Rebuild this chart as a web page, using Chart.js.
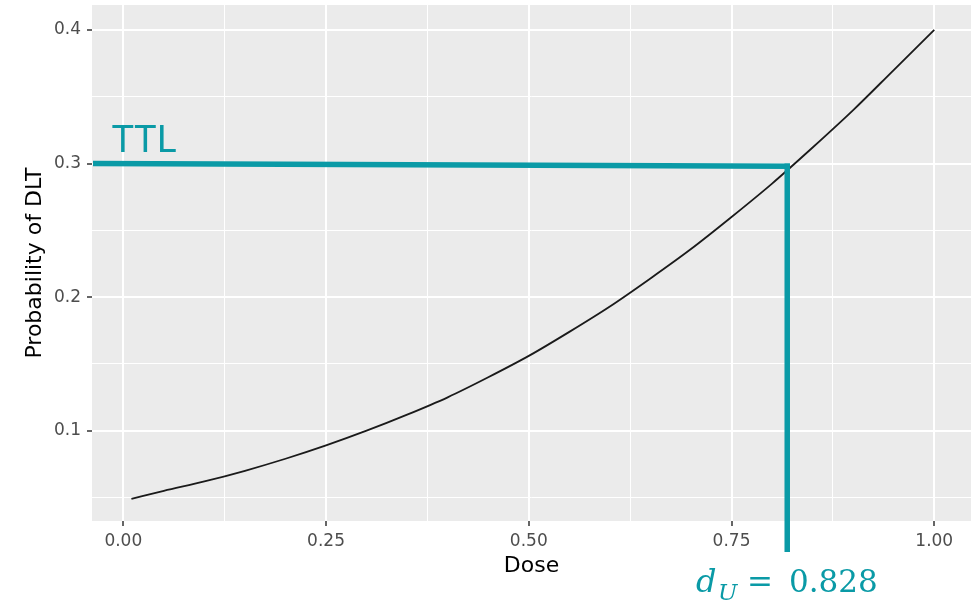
<!DOCTYPE html>
<html lang="en">
<head>
  <meta charset="UTF-8" />
  <title>Probability of DLT vs Dose</title>
  <script src="https://cdn.jsdelivr.net/npm/chart.js"></script>
  <style>
    body { margin: 0; background: #fff; }
    .chart-box { width: 971px; height: 604px; }
  </style>
</head>
<body>
  <div class="chart-box">
    <canvas id="chartDlt"></canvas>
  </div>

  <script>
    // values
    const doses = [0.01, 0.05, 0.10, 0.15, 0.20, 0.25, 0.30, 0.35, 0.40, 0.45, 0.50,
                   0.55, 0.60, 0.65, 0.70, 0.75, 0.80, 0.85, 0.90, 0.95, 1.00];
    const probDlt = [0.049, 0.055, 0.062, 0.070, 0.079, 0.089, 0.100, 0.112, 0.125, 0.140, 0.156,
                     0.174, 0.193, 0.214, 0.236, 0.260, 0.285, 0.312, 0.340, 0.370, 0.400];

    const xMajor = [0, 0.25, 0.5, 0.75, 1];
    const xMinor = [0.125, 0.375, 0.625, 0.875];
    const yMajor = [0.1, 0.2, 0.3, 0.4];
    const yMinor = [0.05, 0.15, 0.25, 0.35];

    const ttl = 0.3;
    const dU = 0.828;
    const teal = '#0a9aa6';

    function isMajor(list, v) {
      return list.some(m => Math.abs(m - v) < 1e-9);
    }

    function setTicks(major, minor) {
      return function (scale) {
        scale.ticks = major.concat(minor).sort((a, b) => a - b).map(v => ({ value: v }));
      };
    }

    // grey panel behind the grid
    const panelBg = {
      id: 'panelBg',
      beforeDraw(chart) {
        const { ctx, chartArea: a } = chart;
        ctx.save();
        ctx.fillStyle = '#ebebeb';
        ctx.fillRect(a.left, a.top, a.right - a.left, a.bottom - a.top);
        ctx.restore();
      }
    };

    // teal TTL / d_U annotation drawn over the plot
    const annot = {
      id: 'annot',
      afterDraw(chart) {
        const { ctx, chartArea: a } = chart;
        const x = chart.scales.x;
        const y = chart.scales.y;
        const yLeft = y.getPixelForValue(ttl);
        const yRight = y.getPixelForValue(0.298);
        const xv = x.getPixelForValue(0.8187);

        ctx.save();
        ctx.strokeStyle = teal;
        ctx.lineWidth = 5.5;
        ctx.lineCap = 'butt';
        ctx.beginPath();
        ctx.moveTo(a.left + 1, yLeft);
        ctx.lineTo(xv + 2.75, yRight);
        ctx.stroke();
        ctx.beginPath();
        ctx.moveTo(xv, yRight - 2.75);
        ctx.lineTo(xv, y.getPixelForValue(0.0092));
        ctx.stroke();

        ctx.fillStyle = teal;
        ctx.textBaseline = 'alphabetic';
        ctx.textAlign = 'left';
        ctx.font = '39px "Noto Sans", "Open Sans", sans-serif';
        ctx.fillText('TTL', a.left + 20, 152);

        ctx.font = 'italic 32px "DejaVu Serif", serif';
        ctx.fillText('d', 696, 592);
        ctx.font = 'italic 23px "DejaVu Serif", serif';
        ctx.fillText('U', 718, 600);
        ctx.font = '31px "DejaVu Serif", serif';
        ctx.fillText('=', 747, 592);
        ctx.fillText(dU.toFixed(3), 789, 592);
        ctx.restore();
      }
    };

    const ctxDlt = document.getElementById('chartDlt').getContext('2d');
    new Chart(ctxDlt, {
      type: 'line',
      data: {
        datasets: [{
          data: doses.map((d, i) => ({ x: d, y: probDlt[i] })),
          borderColor: '#1a1a1a',
          borderWidth: 1.8,
          pointRadius: 0,
          fill: false,
          cubicInterpolationMode: 'monotone'
        }]
      },
      options: {
        responsive: true,
        maintainAspectRatio: false,
        animation: false,
        layout: { padding: { top: 5, left: 0, right: 0, bottom: 0 } },
        plugins: {
          legend: { display: false },
          tooltip: { enabled: false }
        },
        scales: {
          x: {
            type: 'linear',
            min: -0.0386,
            max: 1.0453,
            afterBuildTicks: setTicks(xMajor, xMinor),
            afterFit(scale) {
              scale.height = 83;
              scale.paddingLeft = 0;
              scale.paddingRight = 0;
            },
            border: { display: false },
            grid: {
              color: '#ffffff',
              lineWidth: c => isMajor(xMajor, c.tick.value) ? 2 : 1,
              tickColor: c => isMajor(xMajor, c.tick.value) ? '#333333' : 'rgba(0,0,0,0)',
              tickLength: 5,
              tickWidth: 1.5
            },
            ticks: {
              autoSkip: false,
              maxRotation: 0,
              padding: 5,
              color: '#4d4d4d',
              font: { family: 'DejaVu Sans', size: 17 },
              callback: v => isMajor(xMajor, v) ? v.toFixed(2) : ''
            },
            title: {
              display: true,
              text: 'Dose',
              color: '#000000',
              font: { family: 'DejaVu Sans', size: 22 },
              padding: { top: 0, bottom: 25 }
            }
          },
          y: {
            type: 'linear',
            min: 0.0324,
            max: 0.4187,
            afterBuildTicks: setTicks(yMajor, yMinor),
            afterFit(scale) {
              scale.width = 92;
              scale.paddingTop = 0;
              scale.paddingBottom = 0;
            },
            border: { display: false },
            grid: {
              color: '#ffffff',
              lineWidth: c => isMajor(yMajor, c.tick.value) ? 2 : 1,
              tickColor: c => isMajor(yMajor, c.tick.value) ? '#333333' : 'rgba(0,0,0,0)',
              tickLength: 5,
              tickWidth: 1.5
            },
            ticks: {
              autoSkip: false,
              padding: 6,
              color: '#4d4d4d',
              font: { family: 'DejaVu Sans', size: 17 },
              callback: v => isMajor(yMajor, v) ? v.toFixed(1) : ''
            },
            title: {
              display: true,
              text: 'Probability of DLT',
              color: '#000000',
              font: { family: 'DejaVu Sans', size: 22 },
              padding: { top: 22, bottom: 0 }
            }
          }
        }
      },
      plugins: [panelBg, annot]
    });
  </script>
</body>
</html>
